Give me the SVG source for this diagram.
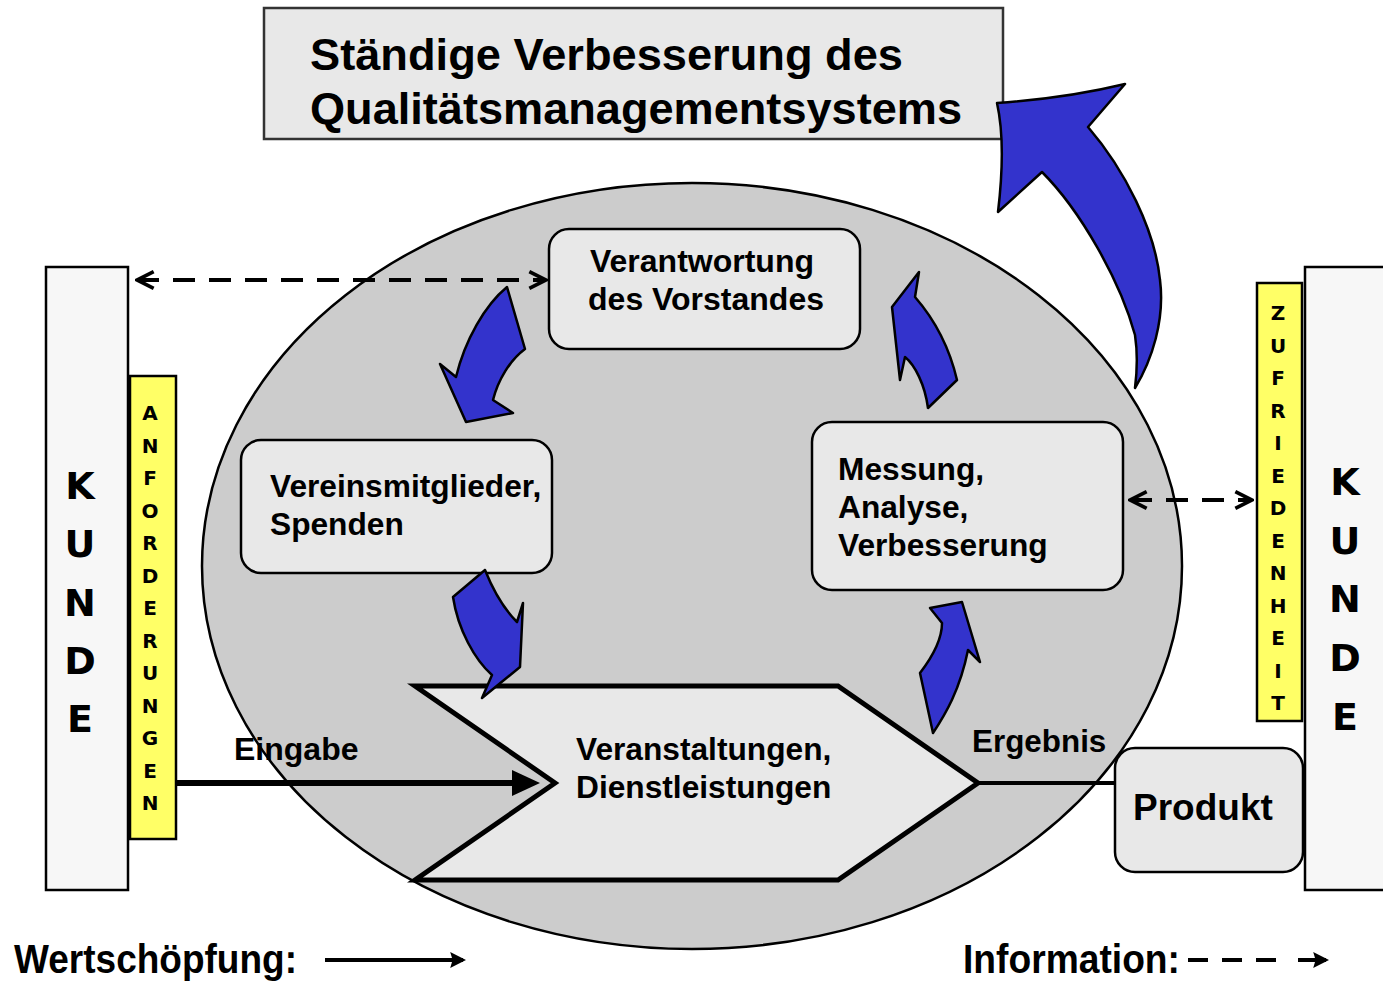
<svg xmlns="http://www.w3.org/2000/svg" width="1383" height="987" viewBox="0 0 1383 987">
<defs>
<style>
.t{font-family:"Liberation Sans",Arial,sans-serif;font-weight:bold;fill:#000}
.k{font-family:"DejaVu Sans",Verdana,sans-serif;font-weight:bold;fill:#000;text-anchor:middle}
.box{fill:#e8e8e8;stroke:#000;stroke-width:2.5}
.blue{fill:#3333cc;stroke:#000;stroke-width:2.5;stroke-linejoin:round}
.dash{stroke:#000;stroke-width:4;stroke-dasharray:22,14;fill:none}
</style>
<marker id="ah" viewBox="0 0 12 12" refX="11" refY="6" markerWidth="5" markerHeight="5" orient="auto-start-reverse" markerUnits="strokeWidth">
<path d="M1,1 L11,6 L1,11" fill="none" stroke="#000" stroke-width="2.2"/>
</marker>
<marker id="sh" viewBox="0 0 10 10" refX="8" refY="5" markerWidth="4" markerHeight="4" orient="auto" markerUnits="strokeWidth">
<path d="M0,0 L10,5 L0,10 L1.5,5 Z" fill="#000"/>
</marker>
</defs>
<rect width="1383" height="987" fill="#fff"/>

<g id="title">
<rect x="264" y="8" width="739" height="131" fill="#e8e8e8" stroke="#333" stroke-width="2.5"/>
<text class="t" x="310" y="70" font-size="44" textLength="593" lengthAdjust="spacingAndGlyphs">Ständige Verbesserung des</text>
<text class="t" x="310" y="124" font-size="44" textLength="652" lengthAdjust="spacingAndGlyphs">Qualitätsmanagementsystems</text>
</g>

<g id="big-arrow">
<path class="blue" d="M1135,388 C1152,360 1165,320 1160,280 C1155,230 1125,170 1088,127 L1125,84 C1080,95 1040,100 997,103 C1003,130 1003,170 998,212 L1042,172 C1080,210 1120,280 1135,335 C1138,355 1137,372 1135,388 Z"/>
</g>

<g id="process-ellipse">
<ellipse cx="692" cy="566" rx="490" ry="383" fill="#cccccc" stroke="#000" stroke-width="2.5"/>
</g>

<g id="kunde-left">
<rect x="46" y="267" width="82" height="623" fill="#f7f7f7" stroke="#000" stroke-width="2.5"/>
<text class="k" font-size="38" x="80" y="499">K</text>
<text class="k" font-size="38" x="80" y="557">U</text>
<text class="k" font-size="38" x="80" y="616">N</text>
<text class="k" font-size="38" x="80" y="674">D</text>
<text class="k" font-size="38" x="80" y="732">E</text>
</g>

<g id="anforderungen">
<rect x="130" y="376" width="46" height="463" fill="#ffff66" stroke="#000" stroke-width="2.5"/>
<g class="k" font-size="20">
<text x="150" y="420">A</text><text x="150" y="453">N</text><text x="150" y="485">F</text><text x="150" y="518">O</text><text x="150" y="550">R</text><text x="150" y="583">D</text><text x="150" y="615">E</text><text x="150" y="648">R</text><text x="150" y="680">U</text><text x="150" y="713">N</text><text x="150" y="745">G</text><text x="150" y="778">E</text><text x="150" y="810">N</text>
</g>
</g>

<g id="kunde-right">
<rect x="1305" y="267" width="82" height="623" fill="#f7f7f7" stroke="#000" stroke-width="2.5"/>
<text class="k" font-size="38" x="1345" y="495">K</text>
<text class="k" font-size="38" x="1345" y="554">U</text>
<text class="k" font-size="38" x="1345" y="612">N</text>
<text class="k" font-size="38" x="1345" y="671">D</text>
<text class="k" font-size="38" x="1345" y="730">E</text>
</g>

<g id="zufriedenheit">
<rect x="1257" y="283" width="45" height="438" fill="#ffff66" stroke="#000" stroke-width="2.5"/>
<g class="k" font-size="20">
<text x="1278" y="320">Z</text><text x="1278" y="353">U</text><text x="1278" y="385">F</text><text x="1278" y="418">R</text><text x="1278" y="450">I</text><text x="1278" y="483">E</text><text x="1278" y="515">D</text><text x="1278" y="548">E</text><text x="1278" y="580">N</text><text x="1278" y="613">H</text><text x="1278" y="645">E</text><text x="1278" y="678">I</text><text x="1278" y="710">T</text>
</g>
</g>

<g id="verantwortung">
<rect class="box" x="549" y="229" width="311" height="120" rx="20"/>
<text class="t" font-size="32" x="702" y="272" text-anchor="middle">Verantwortung</text>
<text class="t" font-size="32" x="706" y="310" text-anchor="middle">des Vorstandes</text>
</g>

<g id="vereinsmitglieder">
<rect class="box" x="241" y="440" width="311" height="133" rx="20"/>
<text class="t" font-size="31.7" x="270" y="497">Vereinsmitglieder,</text>
<text class="t" font-size="31.7" x="270" y="535">Spenden</text>
</g>

<g id="messung">
<rect class="box" x="812" y="422" width="311" height="168" rx="20"/>
<text class="t" font-size="31.7" x="838" y="480">Messung,</text>
<text class="t" font-size="31.7" x="838" y="518">Analyse,</text>
<text class="t" font-size="31.7" x="838" y="556">Verbesserung</text>
</g>

<g id="veranstaltungen">
<polygon points="415,686 838,686 978,783 838,880 415,880 555,783" fill="#e8e8e8" stroke="#000" stroke-width="5" stroke-linejoin="miter"/>
<text class="t" font-size="31.7" x="576" y="760">Veranstaltungen,</text>
<text class="t" font-size="31.7" x="576" y="798">Dienstleistungen</text>
</g>

<g id="produkt">
<rect class="box" x="1115" y="748" width="188" height="124" rx="20"/>
<text class="t" font-size="37" x="1133" y="820">Produkt</text>
</g>

<g id="cycle-arrows">
<path class="blue" d="M507,287 L525,349 C510,360 498,380 493,400 L513,413 L466,422 L440,364 L456,377 C465,340 485,305 507,287 Z"/>
<path class="blue" d="M485,570 L453,597 C458,630 475,660 492,675 L482,698 L520,667 L523,603 L517,622 C505,610 495,595 485,570 Z"/>
<path class="blue" d="M930,608 L962,602 L980,662 L968,650 C960,690 945,715 933,733 L920,673 C930,660 942,640 942,623 Z"/>
<path class="blue" d="M919,272 L915,297 C935,320 950,350 957,380 L928,408 C925,385 915,365 905,357 L900,380 L892,307 Z"/>
</g>

<g id="connectors">
<line x1="176" y1="783" x2="515" y2="783" stroke="#000" stroke-width="6"/>
<polygon points="512,770 540,783 512,796" fill="#000"/>
<line x1="978" y1="783" x2="1115" y2="783" stroke="#000" stroke-width="4"/>
<line class="dash" x1="137" y1="280" x2="546" y2="280" marker-start="url(#ah)" marker-end="url(#ah)"/>
<line class="dash" x1="1130" y1="500" x2="1252" y2="500" marker-start="url(#ah)" marker-end="url(#ah)"/>
<text class="t" font-size="32" x="234" y="760">Eingabe</text>
<text class="t" font-size="31.4" x="972" y="752">Ergebnis</text>
</g>

<g id="legend">
<text class="t" font-size="40" x="14" y="973" textLength="283" lengthAdjust="spacingAndGlyphs">Wertschöpfung:</text>
<line x1="325" y1="960" x2="463" y2="960" stroke="#000" stroke-width="4" marker-end="url(#sh)"/>
<text class="t" font-size="40" x="963" y="973" textLength="217" lengthAdjust="spacingAndGlyphs">Information:</text>
<line x1="1188" y1="960" x2="1278" y2="960" stroke="#000" stroke-width="4" stroke-dasharray="20,14"/>
<line x1="1298" y1="960" x2="1326" y2="960" stroke="#000" stroke-width="4" marker-end="url(#sh)"/>
</g>
</svg>
